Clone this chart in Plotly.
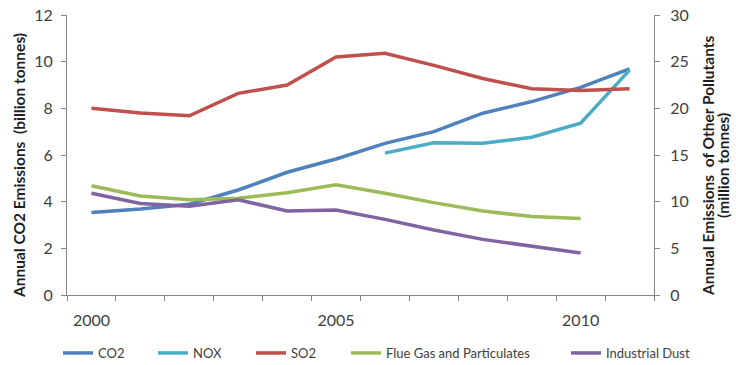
import plotly.graph_objects as go

# Years on the category axis
years = list(range(2000, 2012))

# Annual CO2 emissions, billion tonnes (left axis)
co2 = [3.54, 3.69, 3.89, 4.50, 5.26, 5.83, 6.50, 7.00, 7.79, 8.29, 8.90, 9.69]

# Other pollutants, million tonnes (right axis)
nox = [None, None, None, None, None, None, 15.2, 16.3, 16.25, 16.9, 18.4, 24.1]
so2 = [20.0, 19.5, 19.2, 21.6, 22.5, 25.5, 25.9, 24.6, 23.2, 22.1, 21.9, 22.1]
flue_gas = [11.7, 10.6, 10.2, 10.36, 10.96, 11.8, 10.9, 9.9, 9.0, 8.4, 8.2, None]
industrial_dust = [10.9, 9.8, 9.5, 10.2, 9.0, 9.1, 8.1, 6.96, 5.96, 5.2, 4.5, None]

left_ticks = [0, 2, 4, 6, 8, 10, 12]
right_ticks = [0, 5, 10, 15, 20, 25, 30]
year_labels = [2000, 2005, 2010]

W, H = 736, 365
M_L, M_R, M_T, M_B = 67, 82, 15, 70
AXIS_GREY = "#868686"
TEXT = "#404040"
TITLE = "#1f1f1f"
FONT = "Lato, 'Liberation Sans', sans-serif"

# name, values, colour, y axis, legend id, legend left edge (px)
series = [
    ("CO2", co2, "#4F81BD", "y", "legend", 58),
    ("NOX", nox, "#4BACC6", "y2", "legend2", 153),
    ("SO2", so2, "#C0504D", "y2", "legend3", 251),
    ("Flue Gas and Particulates", flue_gas, "#9BBB59", "y2", "legend4", 346),
    ("Industrial Dust", industrial_dust, "#8064A2", "y2", "legend5", 566),
]

fig = go.Figure()
legends = {}
for name, values, color, yax, leg, left_px in series:
    fig.add_trace(go.Scatter(
        x=years, y=values, name=name, mode="lines", yaxis=yax,
        line=dict(color=color, width=3.5), connectgaps=False,
        legend=leg,
    ))
    legends[leg] = dict(
        orientation="h",
        xref="container", x=left_px / W, xanchor="left",
        yref="container", y=12 / H, yanchor="middle",
        font=dict(size=13, color=TEXT), itemwidth=30,
        bgcolor="rgba(0,0,0,0)",
    )

axis_title_font = dict(family=FONT, size=15.5, color=TITLE, weight="bold")

fig.update_layout(
    width=W, height=H,
    margin=dict(l=M_L, r=M_R, t=M_T, b=M_B),
    paper_bgcolor="white", plot_bgcolor="white",
    font=dict(family=FONT, color=TEXT, size=16),
    showlegend=True,
    **legends,
    xaxis=dict(
        range=[1999.5, 2011.5], automargin=False,
        tickvals=year_labels, ticktext=[str(v) for v in year_labels],
        ticks="outside", ticklen=11, tickcolor="rgba(0,0,0,0)",
        minor=dict(tick0=1999.5, dtick=1, ticks="outside", ticklen=5,
                   tickcolor=AXIS_GREY, showgrid=False),
        showline=True, linecolor=AXIS_GREY, linewidth=1,
        showgrid=False, zeroline=False,
        tickfont=dict(size=16, color=TEXT),
    ),
    yaxis=dict(
        range=[0, 12], tickvals=left_ticks, automargin=False,
        ticks="outside", ticklen=5, tickcolor=AXIS_GREY,
        ticklabelstandoff=5,
        showline=True, linecolor=AXIS_GREY, linewidth=1,
        showgrid=False, zeroline=False,
        tickfont=dict(size=16, color=TEXT),
    ),
    yaxis2=dict(
        range=[0, 30], tickvals=right_ticks, automargin=False,
        overlaying="y", side="right",
        ticks="outside", ticklen=5, tickcolor=AXIS_GREY,
        ticklabelstandoff=7,
        showline=True, linecolor=AXIS_GREY, linewidth=1,
        showgrid=False, zeroline=False,
        tickfont=dict(size=16, color=TEXT),
    ),
)

# Axis titles as rotated annotations placed in the page margins
plot_w = W - M_L - M_R
plot_h = H - M_T - M_B
titles = [
    ("Annual CO2 Emissions  (billion tonnes)", 19),
    ("Annual Emissions  of Other Pollutants", 708),
    ("(million tonnes)", 723),
]
for text, x_px in titles:
    fig.add_annotation(
        text=text, textangle=-90,
        xref="paper", yref="paper",
        x=(x_px - M_L) / plot_w, y=(H - M_B - 166) / plot_h,
        xanchor="center", yanchor="middle",
        showarrow=False, font=axis_title_font,
    )

fig.write_html("out.html")
